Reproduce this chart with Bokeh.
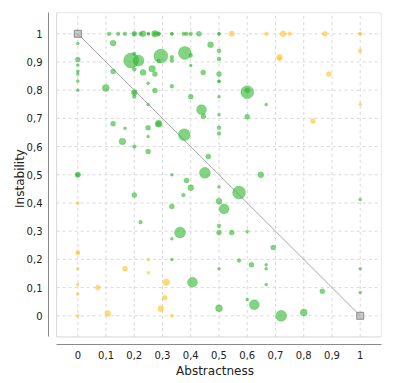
import numpy as np
from bokeh.plotting import figure
from bokeh.models import Range1d, FixedTicker, CustomJSTickFormatter, BoxAnnotation, ColumnDataSource
from bokeh.embed import file_html
from bokeh.resources import INLINE

# package metrics: abstractness, instability, number of classes
abstractness = [
    # top row I=1
    0.111, 0.143, 0.167, 0.2, 0.2, 0.222, 0.231, 0.25, 0.25, 0.273, 0.273, 0.286, 0.286,
    0.333, 0.333, 0.375, 0.385, 0.4, 0.429, 0.5, 0.5,
    0.545, 0.667, 0.727, 0.75, 0.875, 1.0, 1.0,
    # A=0 column
    0, 0, 0, 0, 0, 0, 0, 0, 0,
    0, 0, 0, 0, 0, 0, 0,
    # upper middle
    0.125, 0.189, 0.215, 0.2, 0.2, 0.125, 0.231, 0.263, 0.273, 0.294, 0.286, 0.249,
    0.333, 0.333, 0.379, 0.4, 0.4, 0.099, 0.2, 0.2, 0.2, 0.273, 0.333, 0.4, 0.249,
    0.438, 0.445, 0.125, 0.167, 0.249, 0.286, 0.286, 0.249, 0.377, 0.158, 0.2, 0.249,
    0.333, 0.385, 0.45, 0.47, 0.5, 0.5, 0.444, 0.5, 0.5, 0.5, 0.6, 0.6, 0.5, 0.667,
    0.5, 0.6, 0.5, 0.5, 0.462, 0.648,
    # lower region
    0.2, 0.222, 0.333, 0.362, 0.333, 0.4, 0.374, 0.333, 0.406, 0.5, 0.571, 0.5, 0.518,
    0.5, 0.5, 0.545, 0.6, 0.692, 0.571, 0.5, 0.615, 0.667, 0.667, 0.667, 0.866, 0.6,
    0.625, 0.5, 0.72, 0.8, 1.0, 1.0, 1.0,
    # other zone points
    0.714, 0.714, 0.889, 1.0, 1.0, 0.833, 0.071, 0.106, 0.167, 0.25, 0.25, 0.313,
    0.308, 0.294, 0.333,
]
instability = [
    1, 1, 1, 1, 1, 1, 1, 1, 1, 1, 1, 1, 1,
    1, 1, 1, 1, 1, 1, 1, 1,
    1, 1, 1, 1, 1, 1, 1,
    0.966, 0.909, 0.889, 0.867, 0.857, 0.833, 0.8, 0.5, 0.5,
    0.4, 0.225, 0.222, 0.167, 0.111, 0.077, 0.0,
    0.967, 0.905, 0.905, 0.929, 0.874, 0.866, 0.863, 0.876, 0.857, 0.921, 0.904, 0.825,
    0.917, 0.905, 0.932, 0.923, 0.888, 0.808, 0.792, 0.792, 0.777, 0.799, 0.814, 0.777, 0.749,
    0.731, 0.708, 0.681, 0.665, 0.667, 0.681, 0.681, 0.636, 0.642, 0.618, 0.6, 0.583,
    0.5, 0.48, 0.507, 0.961, 0.94, 0.911, 0.863, 0.857, 0.832, 0.832, 0.793, 0.799, 0.777, 0.749,
    0.713, 0.706, 0.667, 0.646, 0.565, 0.5,
    0.428, 0.332, 0.388, 0.295, 0.273, 0.454, 0.428, 0.2, 0.119, 0.457, 0.437, 0.406, 0.379,
    0.319, 0.295, 0.295, 0.299, 0.242, 0.196, 0.167, 0.181, 0.181, 0.167, 0.111, 0.087, 0.058,
    0.039, 0.027, 0.0, 0.012, 0.412, 0.167, 0.083,
    0.917, 0.912, 0.857, 0.94, 0.75, 0.691, 0.1, 0.008, 0.167, 0.2, 0.153, 0.119,
    0.064, 0.025, 0.0,
]
classes = [
    2, 2, 2, 4, 1, 2, 6, 1, 1, 8, 2, 2, 2,
    1, 1, 2, 2, 2, 4, 1, 1,
    5, 2, 6, 2, 4, 1, 1,
    1, 4, 1, 1, 1, 1, 1, 5, 2,
    1, 2, 1, 1, 1, 1, 1,
    6, 49, 25, 2, 2, 4, 6, 8, 4, 42, 2, 1,
    2, 2, 36, 2, 1, 9, 6, 1, 2, 4, 2, 4, 1,
    20, 4, 4, 1, 4, 9, 4, 1, 30, 8, 2, 4,
    1, 4, 25, 6, 2, 2, 4, 4, 1, 1, 36, 4, 1, 1,
    1, 4, 2, 2, 4, 6,
    4, 2, 4, 25, 1, 6, 2, 1, 20, 1, 36, 6, 20,
    2, 4, 4, 1, 4, 2, 1, 4, 1, 1, 1, 4, 1,
    20, 9, 25, 9, 1, 1, 1,
    6, 2, 4, 2, 1, 4, 4, 6, 4, 1, 1, 8,
    4, 6, 1,
]
main_sequence_a = [0, 1]
main_sequence_i = [1, 0]
ticks = [0, 0.1, 0.2, 0.3, 0.4, 0.5, 0.6, 0.7, 0.8, 0.9, 1]

A = np.array(abstractness, dtype=float)
I = np.array(instability, dtype=float)
n = np.array(classes, dtype=float)
dist = np.abs(A + I - 1)
colors = np.where(dist > 0.5 + 1e-9, "#ffc21f", "#2fb52f")
sizes = 2 * np.sqrt(n) + 1
order = np.argsort(-sizes)
src = ColumnDataSource(dict(x=A[order], y=I[order], s=sizes[order], c=colors[order]))

LO, HI = -0.075, 1.075
p = figure(frame_width=333, frame_height=332,
           x_range=Range1d(-0.1038, 1.0754), y_range=Range1d(-0.1018, 1.0755),
           output_backend="svg", toolbar_location=None,
           min_border_left=48, min_border_top=12, min_border_right=4, min_border_bottom=32)
p.xgrid.visible = False
p.ygrid.visible = False
p.outline_line_color = None
p.background_fill_color = "white"

# dashed grid inside the inner frame
n_t = len(ticks)
p.segment(x0=ticks, y0=[LO] * n_t, x1=ticks, y1=[HI] * n_t,
          line_color="#d9d9d9", line_dash="3 3", line_width=1)
p.segment(x0=[LO] * n_t, y0=ticks, x1=[HI] * n_t, y1=ticks,
          line_color="#d9d9d9", line_dash="3 3", line_width=1)
p.add_layout(BoxAnnotation(left=LO, right=HI, bottom=LO, top=HI,
                           fill_color=None, line_color="#d6d6d6", line_width=1, line_alpha=1))

p.line(main_sequence_a, main_sequence_i, line_color="#a8a8a8", line_width=1)

p.scatter("x", "y", size="s", source=src, marker="circle",
          fill_color="c", fill_alpha=0.6, line_color="c", line_alpha=0.25, line_width=1)

p.scatter(main_sequence_a, main_sequence_i, marker="square", size=7,
          fill_color="#9a9a9a", fill_alpha=0.55, line_color="#8c8c8c", line_width=1)

fmt = CustomJSTickFormatter(code="""
const v = Math.round(tick * 10) / 10;
return v.toString().replace('.', ',');
""")
for ax in (p.xaxis[0], p.yaxis[0]):
    ax.ticker = FixedTicker(ticks=ticks)
    ax.formatter = fmt
    ax.bounds = (LO, HI)
    ax.major_tick_out = 0
    ax.major_tick_in = 0
    ax.minor_tick_line_color = None
    ax.major_tick_line_color = None
    ax.axis_line_color = "#8a8a8a"
    ax.axis_line_width = 1
    ax.major_label_text_font = "DejaVu Sans"
    ax.major_label_text_font_size = "10px"
    ax.major_label_text_color = "#222222"
    ax.major_label_standoff = 6
    ax.axis_label_text_font = "DejaVu Sans"
    ax.axis_label_text_font_size = "12px"
    ax.axis_label_text_font_style = "normal"
    ax.axis_label_text_color = "#222222"

p.xaxis[0].axis_label_standoff = 2
p.yaxis[0].axis_label_standoff = -3

p.xaxis.axis_label = "Abstractness"
p.yaxis.axis_label = "Instability"

open("out.html", "w").write(file_html(p, INLINE))
